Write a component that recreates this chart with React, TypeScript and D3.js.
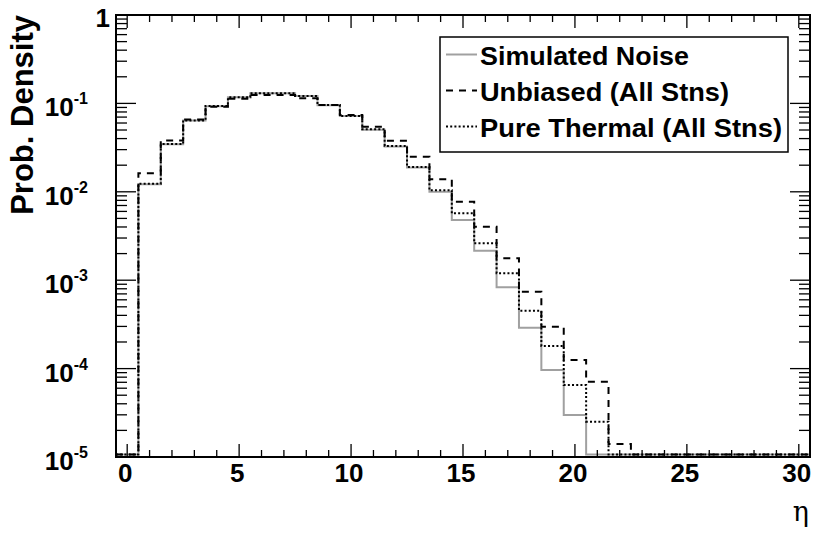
import React from "react";
import * as d3 from "d3";

const binCenters = [0, 1, 2, 3, 4, 5, 6, 7, 8, 9, 10, 11, 12, 13, 14, 15, 16, 17, 18, 19, 20, 21, 22, 23, 24, 25, 26, 27, 28, 29, 30];

const simulatedNoise = [
  1.07e-5, 0.0122, 0.0345, 0.064, 0.093, 0.117, 0.13, 0.13, 0.121, 0.0955,
  0.0718, 0.0505, 0.0325, 0.0188, 0.01, 0.0048, 0.00216, 0.000832, 0.00029, 0.0000964,
  0.0000299, 1.07e-5, 1.07e-5, 1.07e-5, 1.07e-5, 1.07e-5, 1.07e-5, 1.07e-5, 1.07e-5, 1.07e-5, 1.07e-5,
];

const unbiased = [
  1.07e-5, 0.0162, 0.038, 0.0657, 0.0918, 0.113, 0.1245, 0.1245, 0.114, 0.0959,
  0.0739, 0.0545, 0.0379, 0.0249, 0.01384, 0.00773, 0.00403, 0.00177, 0.000741, 0.000298,
  0.000125, 0.0000711, 0.000014, 1.07e-5, 1.07e-5, 1.07e-5, 1.07e-5, 1.07e-5, 1.07e-5, 1.07e-5, 1.07e-5,
];

const pureThermal = [
  1.07e-5, 0.0123, 0.0347, 0.0641, 0.0935, 0.1172, 0.13, 0.13, 0.121, 0.0959,
  0.072, 0.0509, 0.033, 0.0191, 0.0104, 0.00571, 0.00261, 0.0012, 0.000452, 0.00018,
  0.0000652, 0.0000251, 1.07e-5, 1.07e-5, 1.07e-5, 1.07e-5, 1.07e-5, 1.07e-5, 1.07e-5, 1.07e-5, 1.07e-5,
];

const xTickLabels = [0, 5, 10, 15, 20, 25, 30];
const yDecades = [-5, -4, -3, -2, -1, 0];
const legendLabels = ["Simulated Noise", "Unbiased (All Stns)", "Pure Thermal (All Stns)"];

const W = 830;
const H = 545;
const L = 116, R = 810, T = 15, B = 457;
const FONT = "'Liberation Sans', Arial, Helvetica, sans-serif";

const x = d3.scaleLinear().domain([-0.5, 30.5]).range([L, R]);
const y = d3.scaleLog().domain([1e-5, 1]).range([B, T]).clamp(true);

const seriesStyles = [
  { data: simulatedNoise, stroke: "#a0a0a0", dash: "none", width: 2, textLen: 209 },
  { data: unbiased, stroke: "#000", dash: "7,6", width: 2, textLen: 249 },
  { data: pureThermal, stroke: "#000", dash: "2,2.2", width: 2, textLen: 302 },
];

function stepPath(vals: number[]) {
  const pts: [number, number][] = binCenters.map((c, i) => [c - 0.5, vals[i]]);
  pts.push([binCenters[binCenters.length - 1] + 0.5, vals[vals.length - 1]]);
  const line = d3
    .line<[number, number]>()
    .x((d) => x(d[0]))
    .y((d) => y(d[1]))
    .curve(d3.curveStepAfter);
  return line(pts) || "";
}

export default function App() {
  const xMinor = d3.range(0, 31, 1);
  const yMinor: number[] = [];
  for (const k of yDecades.slice(0, -1)) {
    for (let m = 2; m <= 9; m++) yMinor.push(m * Math.pow(10, k));
  }
  return (
    <svg width={W} height={H} style={{ position: "absolute", left: 0, top: 0, background: "#fff" }}>
      <defs>
        <clipPath id="plot">
          <rect x={L} y={T} width={R - L} height={B - T} />
        </clipPath>
      </defs>
      <rect x={0} y={0} width={W} height={H} fill="#fff" />
      <g clipPath="url(#plot)">
        {seriesStyles.map((s, i) => (
          <path key={i} d={stepPath(s.data)} fill="none" stroke={s.stroke} strokeWidth={s.width} strokeDasharray={s.dash} />
        ))}
      </g>
      {/* ticks */}
      <g stroke="#000" strokeWidth={1.3}>
        {xMinor.map((v) => {
          const major = v % 5 === 0;
          const len = major ? 13 : 7;
          return (
            <g key={v}>
              <line x1={x(v)} x2={x(v)} y1={B} y2={B - len} />
              <line x1={x(v)} x2={x(v)} y1={T} y2={T + len} />
            </g>
          );
        })}
        {yDecades.map((k) => {
          const yy = y(Math.pow(10, k));
          return (
            <g key={k}>
              <line x1={L} x2={L + 20} y1={yy} y2={yy} />
              <line x1={R} x2={R - 20} y1={yy} y2={yy} />
            </g>
          );
        })}
        {yMinor.map((v, i) => (
          <g key={i}>
            <line x1={L} x2={L + 11} y1={y(v)} y2={y(v)} />
            <line x1={R} x2={R - 11} y1={y(v)} y2={y(v)} />
          </g>
        ))}
      </g>
      <rect x={L} y={T} width={R - L} height={B - T} fill="none" stroke="#000" strokeWidth={2} />
      {/* x labels */}
      <g fontFamily={FONT} fontWeight="bold" fontSize={26} textAnchor="middle">
        {xTickLabels.map((v) => (
          <text key={v} x={x(v) - 2} y={482}>
            {v}
          </text>
        ))}
      </g>
      {/* y labels */}
      <g fontFamily={FONT} fontWeight="bold">
        {yDecades.map((k) => {
          const yy = y(Math.pow(10, k));
          if (k === 0)
            return (
              <text key={k} x={110} y={yy + 12} fontSize={26} textAnchor="end">
                1
              </text>
            );
          return (
            <text key={k} x={88} y={yy + 13} fontSize={26} textAnchor="end">
              10
              <tspan fontSize={16} dy={-12}>{`-${-k}`}</tspan>
            </text>
          );
        })}
      </g>
      <text
        transform="translate(33,15) rotate(-90)"
        textAnchor="end"
        fontFamily={FONT}
        fontWeight="bold"
        fontSize={31}
      >
        Prob. Density
      </text>
      <text x={809} y={521} textAnchor="end" fontFamily="'DejaVu Serif', 'Liberation Serif', serif" fontSize={27}>
        η
      </text>
      {/* legend */}
      <rect x={440} y={37} width={348} height={115} fill="#fff" stroke="#000" strokeWidth={1.5} />
      {legendLabels.map((lab, i) => {
        const s = seriesStyles[i];
        const yy = 54.5 + i * 36;
        return (
          <g key={lab}>
            <line x1={446} x2={477} y1={yy} y2={yy} stroke={s.stroke} strokeWidth={s.width} strokeDasharray={s.dash} />
            <text
              x={480}
              y={65 + i * 35.8}
              fontFamily={FONT}
              fontWeight="bold"
              fontSize={25.5}
              textLength={s.textLen}
              lengthAdjust="spacingAndGlyphs"
            >
              {lab}
            </text>
          </g>
        );
      })}
    </svg>
  );
}
